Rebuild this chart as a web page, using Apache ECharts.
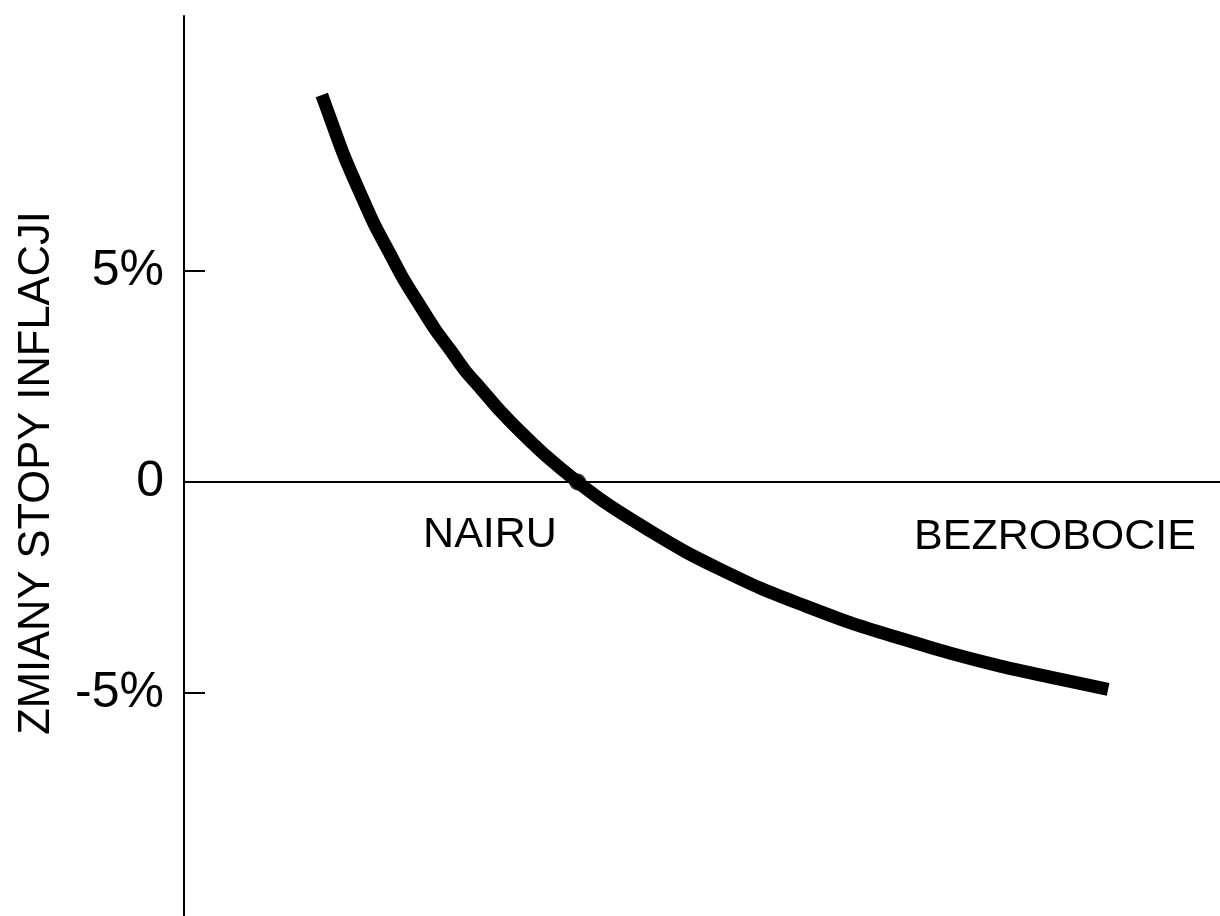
<!DOCTYPE html>
<html>
<head>
<meta charset="utf-8">
<script src="https://cdn.jsdelivr.net/npm/echarts@6/dist/echarts.min.js"></script>
<style>
  html, body { margin: 0; padding: 0; background: #fff; }
  #chart { width: 1220px; height: 916px; }
</style>
</head>
<body>
<div id="chart"></div>
<script>
// bezrobocie (jednostki umowne) i zmiany stopy inflacji (%)
const unemployment = [1.33, 1.41, 1.55, 1.70, 1.84, 1.99, 2.13, 2.28, 2.42, 2.57, 2.71, 2.86, 3.05, 3.24, 3.48, 3.80, 4.11, 4.50, 4.84, 5.17, 5.56, 5.95, 6.43, 6.91, 7.39, 7.88, 8.36, 8.92]
const inflationChange = [9.17, 8.63, 7.70, 6.85, 6.09, 5.40, 4.76, 4.17, 3.63, 3.13, 2.65, 2.23, 1.69, 1.21, 0.65, 0, -0.56, -1.16, -1.65, -2.06, -2.51, -2.89, -3.33, -3.70, -4.05, -4.36, -4.62, -4.91]
const nairu = [3.80, 0]
const yTicks = [-5, 0, 5]

const font = 'Liberation Sans, Arial, sans-serif'

const chart = echarts.init(document.getElementById('chart'))

const option = {
  animation: false,
  backgroundColor: '#fff',
  grid: { left: 184, right: 0, top: 16, bottom: 0 },
  xAxis: {
    type: 'value',
    min: 0,
    max: 10,
    axisLine: { onZero: true, lineStyle: { color: '#000', width: 2 } },
    axisTick: { show: false },
    axisLabel: { show: false },
    splitLine: { show: false }
  },
  yAxis: {
    type: 'value',
    min: -10.28,
    max: 11.04,
    name: 'ZMIANY STOPY INFLACJI',
    nameLocation: 'middle',
    nameGap: 125,
    nameTextStyle: { fontFamily: font, fontSize: 43.5, color: '#000', padding: [0, 14, 0, 0] },
    axisLine: { lineStyle: { color: '#000', width: 2 } },
    axisTick: {
      inside: true,
      length: 21,
      customValues: yTicks,
      lineStyle: { color: '#000', width: 2 }
    },
    axisLabel: {
      customValues: yTicks,
      margin: 20,
      fontFamily: font,
      fontSize: 50,
      color: '#000',
      formatter: v => (v === 0 ? '0' : v + '%')
    },
    splitLine: { show: false }
  },
  graphic: [
    {
      type: 'text',
      x: 490, y: 535,
      style: { text: 'NAIRU', font: '43px ' + font, fill: '#000', align: 'center', verticalAlign: 'middle' }
    },
    {
      type: 'text',
      x: 1196, y: 537,
      style: { text: 'BEZROBOCIE', font: '43px ' + font, fill: '#000', align: 'right', verticalAlign: 'middle' }
    }
  ],
  series: [
    {
      type: 'line',
      data: unemployment.map((x, i) => [x, inflationChange[i]]),
      smooth: 0.3,
      showSymbol: false,
      lineStyle: { color: '#000', width: 13, cap: 'butt', join: 'round' }
    },
    {
      type: 'scatter',
      data: [nairu],
      symbolSize: 17,
      itemStyle: { color: '#000' }
    }
  ]
}

option && chart.setOption(option)
</script>
</body>
</html>
